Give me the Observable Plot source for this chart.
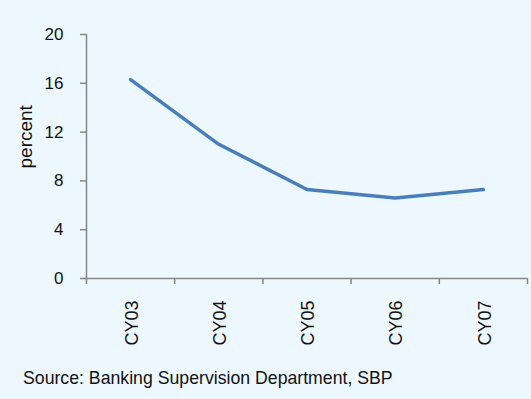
<!DOCTYPE html>
<html><head><meta charset="utf-8">
<script src="https://cdn.jsdelivr.net/npm/d3@7"></script>
<script src="https://cdn.jsdelivr.net/npm/@observablehq/plot@0.6"></script>
<style>
html,body{margin:0;padding:0;background:#edf8fe;}
#wrap{position:relative;width:531px;height:399px;overflow:hidden;background:#edf8fe;}
#caption{position:absolute;left:23px;top:368px;font-family:"Liberation Sans",Arial,sans-serif;font-size:17.7px;line-height:20px;color:#111;white-space:nowrap;}
</style></head><body><div id="wrap"><div id="chart"></div><div id="caption"></div></div>
<script>
const categories = ["CY03", "CY04", "CY05", "CY06", "CY07"];
const values = [16.3, 11.0, 7.3, 6.6, 7.3];
const yTicks = [0, 4, 8, 12, 16, 20];
const yLabel = "percent";
const sourceText = "Source: Banking Supervision Department, SBP";

const data = categories.map((c, i) => ({i, category: c, value: values[i]}));
const n = categories.length;
const boundaries = d3.range(n + 1).map(k => k - 0.5);
const axisColor = "#868686";

const chart = Plot.plot({
  width: 531, height: 355,
  marginLeft: 86, marginRight: 4, marginTop: 34, marginBottom: 77,
  style: {background: "transparent", fontFamily: "'Liberation Sans', Arial, sans-serif"},
  x: {type: "linear", domain: [-0.5, n - 0.5]},
  y: {domain: [0, 20]},
  marks: [
    Plot.axisY({ticks: yTicks, tickSize: 6, tickPadding: 17, stroke: axisColor, strokeWidth: 1.5, fill: "#111", fontSize: 17, label: null}),
    Plot.text([yLabel], {frameAnchor: "left", rotate: -90, dx: -60.5, dy: 12, fontSize: 19, fill: "#111", lineAnchor: "middle"}),
    Plot.axisX({ticks: boundaries, tickSize: 6, tickFormat: () => "", stroke: axisColor, strokeWidth: 1.5, label: null}),
    Plot.axisX({ticks: d3.range(n), tickSize: 0, tickPadding: 22, tickRotate: -90, tickFormat: i => categories[i],
      fontSize: 18, fill: "#111", label: null, dx: 1.5}),
    Plot.ruleY([0], {stroke: axisColor, strokeWidth: 1.5}),
    Plot.ruleX([-0.5], {stroke: axisColor, strokeWidth: 1.5}),
    Plot.line(data, {x: "i", y: "value", stroke: "#4a7ebb", strokeWidth: 3.5})
  ]
});
document.getElementById("chart").appendChild(chart);
document.getElementById("caption").textContent = sourceText;
</script>
</body></html>
